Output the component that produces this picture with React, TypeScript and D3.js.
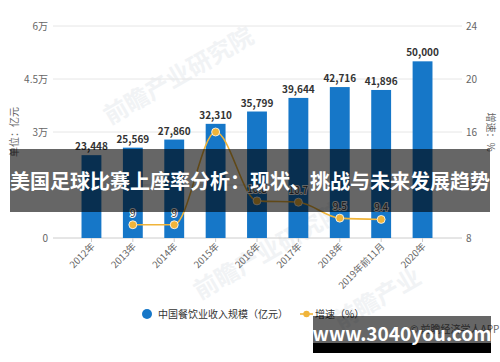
import React from 'react'
import * as d3 from 'd3'

const categories = ['2012年', '2013年', '2014年', '2015年', '2016年', '2017年', '2018年', '2019年前11月', '2020年']
const revenue = [23448, 25569, 27860, 32310, 35799, 39644, 42716, 41896, 50000]
const growth = [null, 9, 9, 16, 10.8, 10.7, 9.5, 9.4, null]
const growthLabels = [null, '9', '9', null, '10.8', '10.7', '9.5', '9.4', null]
const leftTicks = [0, 30000, 45000, 60000]
const leftTickLabels = ['0', '3万', '4.5万', '6万']
const rightTicks = [8, 12, 16, 20, 24]

const W = 500
const H = 362
const FONT = '"Noto Sans CJK SC", "Noto Sans", sans-serif'
const BLUE = '#1677c8'
const GOLD = '#f0b43a'

const App = () => {
  const x = d3.scaleBand().domain(categories).range([60, 454]).padding(0.52)
  const yL = d3.scaleLinear().domain([0, 60000]).range([238, 26])
  const yR = d3.scaleLinear().domain([8, 24]).range([238, 26])
  const cx = (c) => x(c) + x.bandwidth() / 2

  const linePts = categories
    .map((c, i) => ({ c, v: growth[i], label: growthLabels[i] }))
    .filter((d) => d.v != null)
  const line = d3
    .line()
    .x((d) => cx(d.c))
    .y((d) => yR(d.v))
    .curve(d3.curveMonotoneX)

  const gridY = [26, 79, 132, 185]

  return (
    <svg
      width={W}
      height={H}
      style={{ position: 'absolute', left: 0, top: 0, fontFamily: FONT }}
    >
      <rect width={W} height={H} fill="#fff" />
      {/* faint watermarks */}
      <g fill="#f1f3f5" fontSize="24" fontWeight="bold">
        <text transform="translate(110,125) rotate(-30)">前瞻产业研究院</text>
        <text transform="translate(200,300) rotate(-30)">前瞻产业研究院</text>
        <text transform="translate(340,330) rotate(-30)">前瞻产业</text>
      </g>

      {/* grid */}
      {gridY.map((g) => (
        <line key={g} x1={53} x2={462} y1={g} y2={g} stroke="#e6e6e6" />
      ))}
      <line x1={53} x2={462} y1={238} y2={238} stroke="#ccc" />
      {categories.map((c) => (
        <line key={c} x1={cx(c)} x2={cx(c)} y1={238} y2={242} stroke="#ccc" />
      ))}

      {/* left axis */}
      {leftTicks.map((t, i) => (
        <text key={t} x={48} y={yL(t) + 3.5} textAnchor="end" fontSize="10" fill="#666">
          {leftTickLabels[i]}
        </text>
      ))}
      <text
        transform="translate(18,132) rotate(-90)"
        textAnchor="middle"
        fontSize="10"
        fill="#666"
      >
        单位：亿元
      </text>

      {/* right axis */}
      {rightTicks.map((t) => (
        <text key={t} x={466} y={yR(t) + 3.5} fontSize="10" fill="#666">
          {t}
        </text>
      ))}
      <text
        transform="translate(487,132) rotate(90)"
        textAnchor="middle"
        fontSize="10"
        fill="#666"
      >
        增速：%
      </text>

      {/* bars */}
      {categories.map((c, i) => (
        <g key={c}>
          <rect
            x={x(c)}
            y={yL(revenue[i])}
            width={x.bandwidth()}
            height={238 - yL(revenue[i])}
            fill={BLUE}
          />
          <text
            x={cx(c)}
            y={yL(revenue[i]) - 5}
            textAnchor="middle"
            fontSize="10"
            fontWeight="bold"
            fill="#333"
          >
            {d3.format(',')(revenue[i])}
          </text>
        </g>
      ))}

      {/* growth line */}
      <path d={line(linePts)} fill="none" stroke={GOLD} strokeWidth="1.6" />
      {linePts.map((d) => (
        <g key={d.c}>
          <circle cx={cx(d.c)} cy={yR(d.v)} r={4} fill={GOLD} stroke="#fff" strokeWidth="0.8" />
          {d.label && (
            <text
              x={cx(d.c)}
              y={yR(d.v) - 8}
              textAnchor="middle"
              fontSize="10"
              fill="#333"
              stroke="#fff"
              strokeWidth="2"
              paintOrder="stroke"
            >
              {d.label}
            </text>
          )}
        </g>
      ))}

      {/* x labels */}
      {categories.map((c) => (
        <text
          key={c}
          transform={`translate(${cx(c) + 4},${247}) rotate(-45)`}
          textAnchor="end"
          fontSize="9.5"
          fill="#666"
        >
          {c}
        </text>
      ))}

      {/* legend */}
      <circle cx={147} cy={314} r={5} fill={BLUE} />
      <text x={158} y={317.5} fontSize="10" fill="#333">中国餐饮业收入规模（亿元）</text>
      <line x1={300} x2={313} y1={314} y2={314} stroke={GOLD} strokeWidth="1.6" />
      <circle cx={306.5} cy={314} r={3.2} fill={GOLD} />
      <text x={315} y={317.5} fontSize="10" fill="#333">增速（%）</text>

      <text x={410} y={333} fontSize="10" fill="#666">© 前瞻经济学人APP</text>

      {/* title banner overlay */}
      <rect x={10} y={149} width={480} height={63} fill="rgba(0,0,0,0.6)" />
      <text x={250} y={189} textAnchor="middle" fontSize="20" fontWeight="bold" fill="#fff">
        美国足球比赛上座率分析：现状、挑战与未来发展趋势
      </text>

      {/* site banner */}
      <rect x={313} y={316} width={178} height={37} fill="rgba(0,0,0,0.6)" />
      <rect x={313} y={343} width={178} height={10} fill="#000" />
      <text x={402} y={341} textAnchor="middle" fontSize="19" fontWeight="bold" fill="#fff">
        www.3040you.com
      </text>
    </svg>
  )
}

export default App
